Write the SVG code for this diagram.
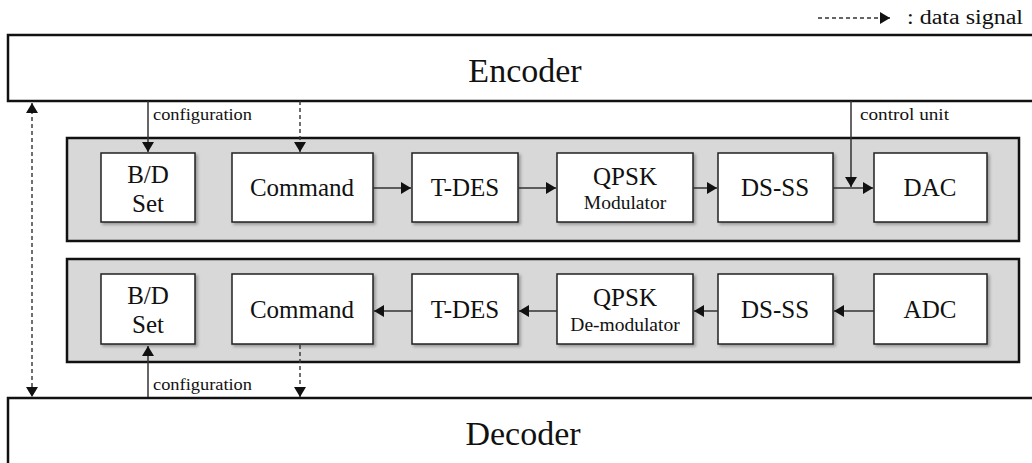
<svg xmlns="http://www.w3.org/2000/svg" width="1032" height="463" viewBox="0 0 1032 463">
<defs>
<style>
.t{font-family:"Liberation Serif","Times New Roman",serif;fill:#111}
.big{font-size:34px;text-anchor:middle}
.lbl{font-size:25px;text-anchor:middle}
.sub{font-size:19.5px;text-anchor:middle}
.sm{font-size:16px}
.outer{fill:#fff;stroke:#111;stroke-width:2.5}
.panel{fill:#d8d8d8;stroke:#111;stroke-width:2.5}
.box{fill:#fff;stroke:#222;stroke-width:1.5;filter:url(#sh)}
.ln{stroke:#333;stroke-width:1.5;fill:none}
.dl{stroke:#333;stroke-width:1.4;fill:none;stroke-dasharray:4 3}
</style>
<filter id="sh" x="-10%" y="-10%" width="130%" height="130%">
<feDropShadow dx="2" dy="2" stdDeviation="1.5" flood-color="#000" flood-opacity="0.3"/>
</filter>
<marker id="ah" viewBox="0 0 10 12" refX="10" refY="6" markerWidth="11" markerHeight="12" markerUnits="userSpaceOnUse" orient="auto-start-reverse">
<path d="M0,0 L10,6 L0,12 Z" fill="#111"/>
</marker>
</defs>
<rect width="1032" height="463" fill="#fff"/>

<g id="legend">
<line class="dl" x1="818" y1="18" x2="890" y2="18" marker-end="url(#ah)"/>
<text class="t" x="907" y="24" font-size="20" textLength="116" lengthAdjust="spacingAndGlyphs">: data signal</text>
</g>

<g id="encoder">
<rect class="outer" x="8" y="35" width="1040" height="66"/>
<text class="t big" x="525" y="82">Encoder</text>
</g>

<g id="decoder">
<rect class="outer" x="8" y="398" width="1040" height="80"/>
<text class="t big" x="523" y="445">Decoder</text>
</g>

<g id="tx-panel">
<rect class="panel" x="67" y="138" width="952" height="103"/>
</g>
<g id="rx-panel">
<rect class="panel" x="67" y="259" width="952" height="103"/>
</g>

<g id="tx-bdset"><rect class="box" x="101" y="153" width="94" height="69"/>
<text class="t lbl" x="148" y="183">B/D</text><text class="t lbl" x="148" y="212">Set</text></g>
<g id="tx-command"><rect class="box" x="232" y="153" width="141" height="69"/>
<text class="t lbl" x="302" y="196">Command</text></g>
<g id="tx-tdes"><rect class="box" x="412" y="153" width="106" height="69"/>
<text class="t lbl" x="465" y="196">T-DES</text></g>
<g id="tx-qpsk"><rect class="box" x="557" y="153" width="136" height="69"/>
<text class="t lbl" x="625" y="185">QPSK</text><text class="t sub" x="625" y="209">Modulator</text></g>
<g id="tx-dsss"><rect class="box" x="718" y="153" width="115" height="69"/>
<text class="t lbl" x="775" y="196">DS-SS</text></g>
<g id="tx-dac"><rect class="box" x="874" y="153" width="113" height="69"/>
<text class="t lbl" x="930" y="196">DAC</text></g>

<g id="rx-bdset"><rect class="box" x="101" y="274" width="94" height="70"/>
<text class="t lbl" x="148" y="304">B/D</text><text class="t lbl" x="148" y="333">Set</text></g>
<g id="rx-command"><rect class="box" x="232" y="274" width="141" height="70"/>
<text class="t lbl" x="302" y="318">Command</text></g>
<g id="rx-tdes"><rect class="box" x="412" y="274" width="106" height="70"/>
<text class="t lbl" x="465" y="318">T-DES</text></g>
<g id="rx-qpsk"><rect class="box" x="557" y="274" width="136" height="70"/>
<text class="t lbl" x="625" y="306">QPSK</text><text class="t sub" x="625" y="331">De-modulator</text></g>
<g id="rx-dsss"><rect class="box" x="718" y="274" width="115" height="70"/>
<text class="t lbl" x="775" y="318">DS-SS</text></g>
<g id="rx-adc"><rect class="box" x="874" y="274" width="113" height="70"/>
<text class="t lbl" x="930" y="318">ADC</text></g>

<g id="connectors">
<line class="dl" x1="32" y1="103" x2="32" y2="397" marker-start="url(#ah)" marker-end="url(#ah)"/>
<line class="ln" x1="148" y1="101" x2="148" y2="152" marker-end="url(#ah)"/>
<line class="dl" x1="300" y1="101" x2="300" y2="152" marker-end="url(#ah)"/>
<line class="ln" x1="851" y1="101" x2="851" y2="187" marker-end="url(#ah)"/>
<line class="ln" x1="373" y1="188" x2="411" y2="188" marker-end="url(#ah)"/>
<line class="ln" x1="518" y1="188" x2="556" y2="188" marker-end="url(#ah)"/>
<line class="ln" x1="693" y1="188" x2="717" y2="188" marker-end="url(#ah)"/>
<line class="ln" x1="833" y1="188" x2="873" y2="188" marker-end="url(#ah)"/>
<line class="ln" x1="412" y1="311" x2="374" y2="311" marker-end="url(#ah)"/>
<line class="ln" x1="557" y1="311" x2="519" y2="311" marker-end="url(#ah)"/>
<line class="ln" x1="718" y1="311" x2="694" y2="311" marker-end="url(#ah)"/>
<line class="ln" x1="874" y1="311" x2="834" y2="311" marker-end="url(#ah)"/>
<line class="ln" x1="148" y1="397" x2="148" y2="346" marker-end="url(#ah)"/>
<line class="dl" x1="300" y1="345" x2="300" y2="397" marker-end="url(#ah)"/>
<text class="t sm" x="153" y="120" textLength="99" lengthAdjust="spacingAndGlyphs">configuration</text>
<text class="t sm" x="860" y="120" textLength="89" lengthAdjust="spacingAndGlyphs">control unit</text>
<text class="t sm" x="153" y="390" textLength="99" lengthAdjust="spacingAndGlyphs">configuration</text>
</g>
</svg>
